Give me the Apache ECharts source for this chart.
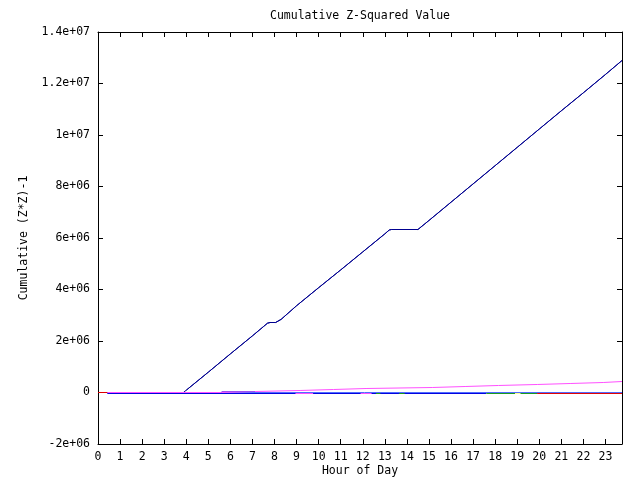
<!DOCTYPE html>
<html>
<head>
<meta charset="utf-8">
<script src="https://cdn.jsdelivr.net/npm/echarts@6/dist/echarts.min.js"></script>
<style>html,body{margin:0;padding:0;background:#fff;}#c{width:640px;height:480px;}</style>
</head>
<body>
<div id="c"></div>
<script>
// ---- data (hour of day, cumulative value) ----
var titleText = 'Cumulative Z-Squared Value';
var xName = 'Hour of Day';
var yName = 'Cumulative (Z*Z)-1';
var yTickValues = [-2e6, 0, 2e6, 4e6, 6e6, 8e6, 1e7, 1.2e7, 1.4e7];
var yTickLabels = ['-2e+06', '0', '2e+06', '4e+06', '6e+06', '8e+06', '1e+07', '1.2e+07', '1.4e+07'];

var mainHours  = [0, 3.87, 4, 5, 6, 7, 7.5, 7.68, 7.8, 8.05, 8.3, 9, 10, 11, 12, 13, 13.2, 13.3, 14.5, 15, 16, 17, 18, 19, 20, 21, 22, 23, 23.75];
var mainValues = [0, 0, 0.09e6, 0.79e6, 1.50e6, 2.20e6, 2.56e6, 2.69e6, 2.718e6, 2.718e6, 2.84e6, 3.37e6, 4.07e6, 4.76e6, 5.46e6, 6.16e6, 6.31e6, 6.33e6, 6.33e6, 6.68e6, 7.39e6, 8.10e6, 8.81e6, 9.52e6, 10.23e6, 10.94e6, 11.64e6, 12.35e6, 12.893e6];

var magentaHours  = [0.42, 5.6, 7.12, 9.16, 10.67, 12.15, 15.15, 16.64, 18.15, 19.91, 21.4, 22.9, 23.75];
var magentaValues = [0, 38.8e3, 77.7e3, 116.5e3, 155e3, 194e3, 233e3, 272e3, 311e3, 349.5e3, 388e3, 427e3, 427e3];

var violetHours  = [5.6, 7.12];
var violetValues = [38.8e3, 38.8e3];

var lightBlueHours  = [0.42, 23.75];
var lightBlueValues = [0, 0];

var blueHours  = [0.42, 17.6];
var blueValues = [-38.8e3, -38.8e3];

var greenHours  = [17.6, 19.9];
var greenValues = [-38.8e3, -38.8e3];
var greenDashHours  = [[12.6, 12.8], [13.65, 13.9]];
var greenDashValue = -38.8e3;

var yellowHours  = [18.9, 19.15];
var yellowValues = [-38.8e3, -38.8e3];

var redHours  = [0, 0.42, null, 19.9, 23.75];
var redValues = [0, 0, null, -38.8e3, -38.8e3];

var pinkDashHours = [[8.95, 9.75], [11.9, 12.4]];
var pinkDashValue = -38.8e3;

function pairs(xs, ys) {
  var out = [];
  for (var i = 0; i < xs.length; i++) {
    out.push(xs[i] === null ? null : [xs[i], ys[i]]);
  }
  return out;
}
function dashes(ranges, v) {
  var out = [];
  for (var i = 0; i < ranges.length; i++) {
    if (i > 0) out.push(null);
    out.push([ranges[i][0], v]);
    out.push([ranges[i][1], v]);
  }
  return out;
}

var FONT = 'DejaVu Sans Mono';
var FS = 11.5;

function lineSeries(data, color, extra) {
  var s = {
    type: 'line', data: data, showSymbol: false, symbol: 'none',
    connectNulls: false, animation: false, silent: true,
    lineStyle: { color: color, width: 1 }, xAxisIndex: 0, yAxisIndex: 0
  };
  if (extra) for (var k in extra) s[k] = extra[k];
  return s;
}

var chart = echarts.init(document.getElementById('c'), null, { renderer: 'canvas' });

var xCommon = {
  type: 'value', min: 0, max: 23.75, interval: 1,
  axisLine: { show: true, onZero: false, lineStyle: { color: '#000', width: 1 } },
  axisTick: { show: true, inside: true, length: 5, lineStyle: { color: '#000', width: 1 } },
  splitLine: { show: false }
};
var yCommon = {
  type: 'value', min: -2e6, max: 1.4e7, interval: 2e6,
  axisLine: { show: true, onZero: false, lineStyle: { color: '#000', width: 1 } },
  axisTick: { show: true, inside: true, length: 5, lineStyle: { color: '#000', width: 1 } },
  splitLine: { show: false }
};

chart.setOption({
  backgroundColor: '#fff',
  animation: false,
  grid: { left: 98, right: 18, top: 32, bottom: 36, containLabel: false },
  xAxis: [
    Object.assign({}, xCommon, {
      position: 'bottom',
      axisLabel: {
        show: true, margin: 7, color: '#000', fontFamily: FONT, fontSize: FS,
        formatter: function (v) { return Math.abs(v - Math.round(v)) < 1e-9 ? String(Math.round(v)) : ''; }
      }
    }),
    Object.assign({}, xCommon, { position: 'top', axisLabel: { show: false } })
  ],
  yAxis: [
    Object.assign({}, yCommon, {
      position: 'left',
      axisLabel: {
        show: true, margin: 8, color: '#000', fontFamily: FONT, fontSize: FS,
        formatter: function (v) {
          for (var i = 0; i < yTickValues.length; i++) {
            if (Math.abs(yTickValues[i] - v) < 1) return yTickLabels[i];
          }
          return '';
        }
      }
    }),
    Object.assign({}, yCommon, { position: 'right', axisLabel: { show: false } })
  ],
  graphic: [
    { type: 'text', x: 360, y: 16, style: { text: titleText, font: FS + 'px "' + FONT + '"', fill: '#000', align: 'center', verticalAlign: 'middle' } },
    { type: 'text', x: 360, y: 471, style: { text: xName, font: FS + 'px "' + FONT + '"', fill: '#000', align: 'center', verticalAlign: 'middle' } },
    { type: 'text', x: 24, y: 238, rotation: Math.PI / 2, style: { text: yName, font: FS + 'px "' + FONT + '"', fill: '#000', align: 'center', verticalAlign: 'middle' } }
  ],
  series: [
    lineSeries(pairs(blueHours, blueValues), '#0000e0'),
    lineSeries(dashes(pinkDashHours, pinkDashValue), '#ff50ff'),
    lineSeries(dashes(greenDashHours, greenDashValue), '#1a9a1a'),
    lineSeries(pairs(greenHours, greenValues), '#1a9a1a'),
    lineSeries(pairs(yellowHours, yellowValues), '#ffff90'),
    lineSeries(pairs(mainHours, mainValues), '#000090'),
    lineSeries(pairs(lightBlueHours, lightBlueValues), '#4f6cff'),
    lineSeries(pairs(magentaHours, magentaValues), '#ff50ff', { step: 'end' }),
    lineSeries(pairs(violetHours, violetValues), '#a050f0'),
    lineSeries(pairs(redHours, redValues), '#e00000'),
    lineSeries(pairs(mainHours.slice(2), mainValues.slice(2)), '#000090')
  ]
});
</script>
</body>
</html>
